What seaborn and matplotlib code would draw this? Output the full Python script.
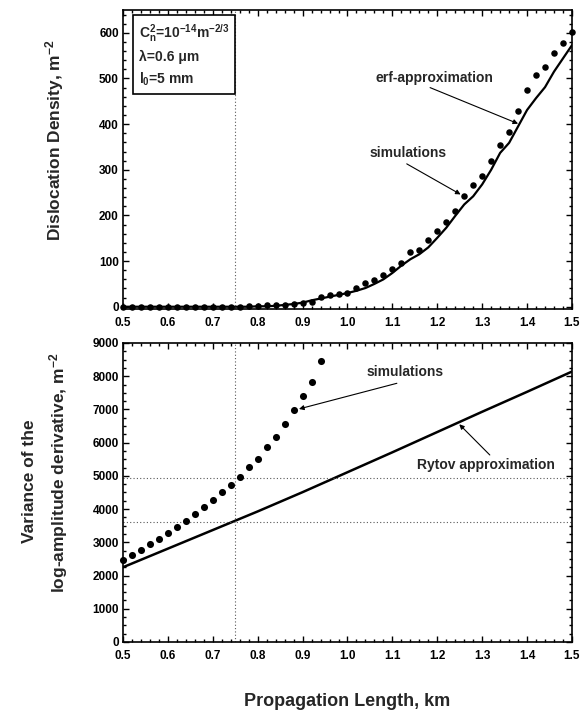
import numpy as np
import pandas as pd
import matplotlib
matplotlib.use("Agg")
import matplotlib.pyplot as plt
import seaborn as sns
from matplotlib.ticker import MultipleLocator

# ---------------- data ----------------
x_top = [0.50, 0.52, 0.54, 0.56, 0.58, 0.60, 0.62, 0.64, 0.66, 0.68,
         0.70, 0.72, 0.74, 0.76, 0.78, 0.80, 0.82, 0.84, 0.86, 0.88,
         0.90, 0.92, 0.94, 0.96, 0.98, 1.00, 1.02, 1.04, 1.06, 1.08,
         1.10, 1.12, 1.14, 1.16, 1.18, 1.20, 1.22, 1.24, 1.26, 1.28,
         1.30, 1.32, 1.34, 1.36, 1.38, 1.40, 1.42, 1.44, 1.46, 1.48, 1.50]
sim_density = [0, 0, 0, 0, 0, 0, 0, 0, 0, 0,
               0, 0, 0, 0.5, 1, 2, 3, 3, 4, 7,
               9, 11, 22, 25, 27, 30, 41, 51, 59, 70,
               83, 96, 119, 125, 146, 167, 186, 209, 242, 267,
               286, 319, 355, 383, 429, 474, 508, 526, 555, 577, 602]
erf_density = [0, 0, 0, 0, 0, 0, 0, 0, 0, 0,
               0, 0, 0, 0, 0, 1, 1, 2, 4, 6,
               9, 14, 18, 22, 26, 30, 35, 41, 50, 60,
               74, 90, 104, 115, 130, 151, 173, 199, 224, 242,
               268, 300, 337, 359, 395, 431, 457, 481, 515, 544, 573]

x_var_sim = [0.50, 0.52, 0.54, 0.56, 0.58, 0.60, 0.62, 0.64, 0.66, 0.68,
             0.70, 0.72, 0.74, 0.76, 0.78, 0.80, 0.82, 0.84, 0.86, 0.88,
             0.90, 0.92, 0.94]
sim_variance = [2468, 2619, 2779, 2950, 3100, 3281, 3452, 3652, 3863, 4064,
                4275, 4515, 4716, 4957, 5258, 5499, 5860, 6161, 6572, 6984,
                7396, 7817, 8449]
x_rytov = [0.5, 0.6, 0.7, 0.8, 0.9, 1.0, 1.1, 1.2, 1.3, 1.4, 1.5]
rytov_variance = [2250, 2810, 3370, 3930, 4510, 5110, 5710, 6320, 6930, 7530, 8140]

ref_length = 0.75
ref_levels = [4930, 3620]

x_ticks = [0.5, 0.6, 0.7, 0.8, 0.9, 1.0, 1.1, 1.2, 1.3, 1.4, 1.5]
x_ticklabels = ["0.5", "0.6", "0.7", "0.8", "0.9", "1.0", "1.1", "1.2", "1.3", "1.4", "1.5"]

# ---------------- style ----------------
sns.set_theme(style="ticks")
plt.rcParams["font.family"] = ["Liberation Sans", "DejaVu Sans"]
plt.rcParams["font.weight"] = "bold"
plt.rcParams["mathtext.fontset"] = "custom"
plt.rcParams["mathtext.rm"] = "Liberation Sans:bold"
plt.rcParams["mathtext.it"] = "Liberation Sans:bold"
plt.rcParams["mathtext.bf"] = "Liberation Sans:bold"

df_top = pd.DataFrame({"x": x_top, "sim": sim_density, "erf": erf_density})
df_vs = pd.DataFrame({"x": x_var_sim, "sim": sim_variance})
df_ry = pd.DataFrame({"x": x_rytov, "ry": rytov_variance})

fig = plt.figure(figsize=(5.84, 7.15), dpi=100)
ax1 = fig.add_axes([0.2106, 0.5678, 0.7688, 0.4182])
ax2 = fig.add_axes([0.2106, 0.1021, 0.7688, 0.4182])

def style_axis(ax, ymaj, ymin):
    ax.set_xlim(0.5, 1.5)
    ax.set_xticks(x_ticks)
    ax.set_xticklabels(x_ticklabels)
    ax.xaxis.set_minor_locator(MultipleLocator(0.02))
    ax.yaxis.set_major_locator(MultipleLocator(ymaj))
    ax.yaxis.set_minor_locator(MultipleLocator(ymin))
    ax.tick_params(which="both", direction="in", top=True, right=True,
                   labelsize=8.5, colors="black", width=1.0)
    ax.tick_params(which="major", length=4.5)
    ax.tick_params(which="minor", length=2.5)
    ax.tick_params(axis="x", which="major", pad=5.5)
    ax.tick_params(axis="y", which="major", pad=3)
    for lab in ax.get_xticklabels() + ax.get_yticklabels():
        lab.set_fontweight("bold")
    for sp in ax.spines.values():
        sp.set_linewidth(1.2)
        sp.set_color("black")
    ax.set_xlabel("")
    ax.set_ylabel("")

# ---------------- top panel ----------------
sns.lineplot(data=df_top, x="x", y="erf", ax=ax1, color="black", lw=1.6)
sns.scatterplot(data=df_top, x="x", y="sim", ax=ax1, color="black", s=22,
                edgecolor="black", linewidth=0, zorder=3, clip_on=False)
ax1.axvline(ref_length, color="0.35", ls=(0, (1, 2)), lw=0.8)
ax1.set_ylim(-5, 650)
style_axis(ax1, 100, 20)

ax1.text(0.035, 0.958,
         "C$_n^2$=10$^{-14}$m$^{-2/3}$\n\u03bb=0.6 \u03bcm\nl$_0$=5 mm",
         transform=ax1.transAxes, ha="left", va="top", fontsize=10,
         fontweight="bold", linespacing=1.5,
         bbox=dict(boxstyle="square,pad=0.4", fc="white", ec="black", lw=1.2))

ax1.text(1.193, 501, "erf-approximation", ha="center", va="center",
         fontsize=10, fontweight="bold")
ax1.annotate("", xy=(1.380, 401), xytext=(1.184, 480),
             arrowprops=dict(arrowstyle="-|>", lw=0.8, color="black",
                             mutation_scale=7, shrinkA=0, shrinkB=0))
ax1.text(1.136, 336, "simulations", ha="center", va="center",
         fontsize=10, fontweight="bold")
ax1.annotate("", xy=(1.252, 246), xytext=(1.132, 313),
             arrowprops=dict(arrowstyle="-|>", lw=0.8, color="black",
                             mutation_scale=7, shrinkA=0, shrinkB=0))

# ---------------- bottom panel ----------------
sns.lineplot(data=df_ry, x="x", y="ry", ax=ax2, color="black", lw=1.8)
sns.scatterplot(data=df_vs, x="x", y="sim", ax=ax2, color="black", s=26,
                edgecolor="black", linewidth=0, zorder=3, clip_on=False)
ax2.axvline(ref_length, color="0.35", ls=(0, (1, 2)), lw=0.8)
for lvl in ref_levels:
    ax2.axhline(lvl, color="0.35", ls=(0, (1, 2)), lw=0.8)
ax2.set_ylim(0, 9000)
style_axis(ax2, 1000, 250)

ax2.text(1.128, 8137, "simulations", ha="center", va="center",
         fontsize=10, fontweight="bold")
ax2.annotate("", xy=(0.892, 7014), xytext=(1.110, 7787),
             arrowprops=dict(arrowstyle="-|>", lw=0.8, color="black",
                             mutation_scale=7, shrinkA=0, shrinkB=0))
ax2.text(1.308, 5328, "Rytov approximation", ha="center", va="center",
         fontsize=10, fontweight="bold")
ax2.annotate("", xy=(1.249, 6553), xytext=(1.317, 5629),
             arrowprops=dict(arrowstyle="-|>", lw=0.8, color="black",
                             mutation_scale=7, shrinkA=0, shrinkB=0))

# ---------------- labels ----------------
fig.text(55 / 584, 1 - 140 / 715, "Dislocation Density, m$^{-2}$", rotation=90,
         ha="center", va="center", fontsize=12.5, fontweight="bold")
fig.text(30 / 584, 1 - 481 / 715, "Variance of the", rotation=90,
         ha="center", va="center", fontsize=12.5, fontweight="bold")
fig.text(59 / 584, 1 - 473 / 715, "log-amplitude derivative, m$^{-2}$", rotation=90,
         ha="center", va="center", fontsize=12.5, fontweight="bold")
fig.text(347 / 584, 1 - 701 / 715, "Propagation Length, km",
         ha="center", va="center", fontsize=13, fontweight="bold")

fig.savefig("out.png", dpi=100, facecolor="white")
